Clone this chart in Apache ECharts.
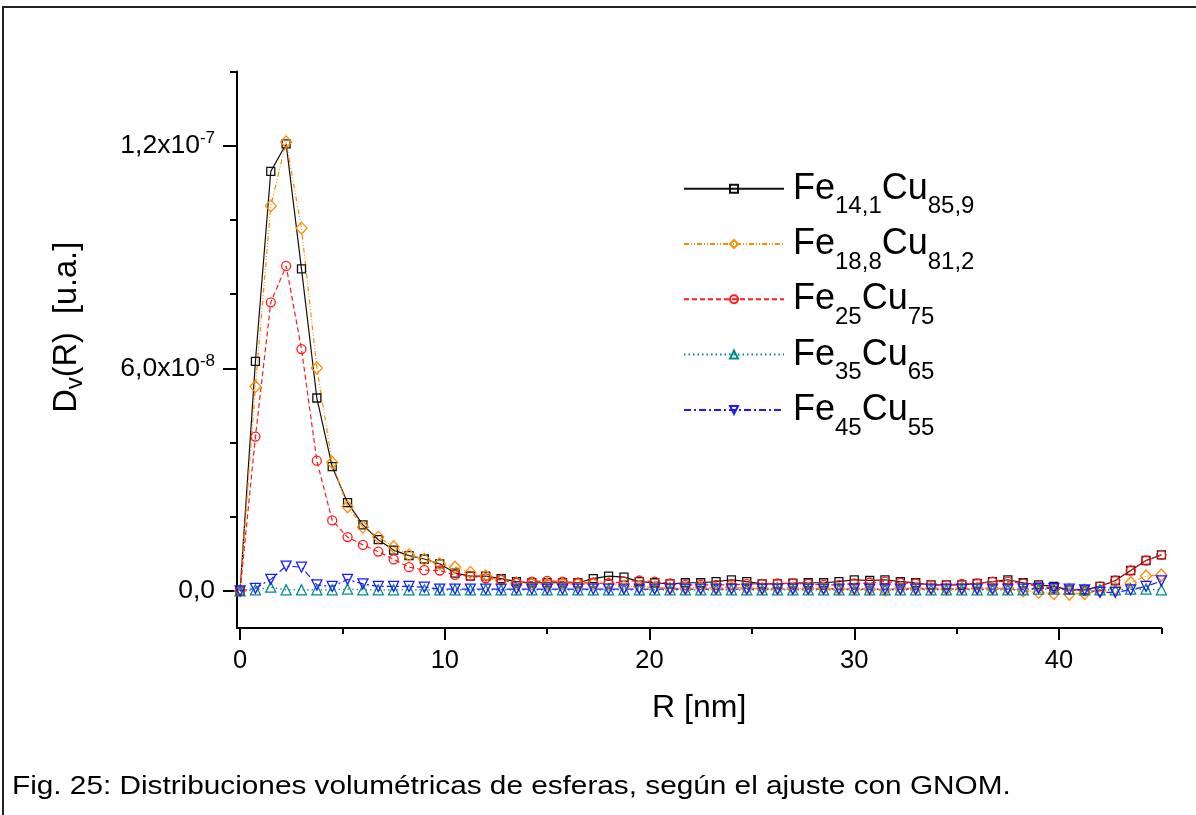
<!DOCTYPE html>
<html>
<head>
<meta charset="utf-8">
<title>Distribuciones volumétricas</title>
<script src="https://cdn.jsdelivr.net/npm/echarts@6/dist/echarts.min.js"></script>
<style>
    html, body { margin: 0; padding: 0; background: #fff; }
    #chart { position: absolute; left: 0; top: 0; width: 1196px; height: 815px; }
    #frame {
        position: absolute; left: 2px; top: 6px; width: 1194px; height: 809px;
        border-top: 2px solid #222; border-left: 2px solid #222;
        box-sizing: border-box; pointer-events: none;
    }
</style>
</head>
<body>
<div id="chart"></div>
<div id="frame"></div>
<script>
const FONT = '"Liberation Sans", Arial, sans-serif';
const CAPTION = 'Fig. 25: Distribuciones volumétricas de esferas, según el ajuste con GNOM.';

// R [nm]
const rValues = [0, 0.75, 1.5, 2.25, 3, 3.75, 4.5, 5.25, 6, 6.75, 7.5, 8.25, 9, 9.75, 10.5, 11.25,
    12, 12.75, 13.5, 14.25, 15, 15.75, 16.5, 17.25, 18, 18.75, 19.5, 20.25, 21, 21.75, 22.5, 23.25,
    24, 24.75, 25.5, 26.25, 27, 27.75, 28.5, 29.25, 30, 30.75, 31.5, 32.25, 33, 33.75, 34.5, 35.25,
    36, 36.75, 37.5, 38.25, 39, 39.75, 40.5, 41.25, 42, 42.75, 43.5, 44.25, 45];

// Dv(R) in units of 1e-8
const fe141 = [0, 6.19, 11.31, 12.05, 8.68, 5.20, 3.35, 2.38, 1.78, 1.38, 1.10, 0.95, 0.86,
    0.73, 0.48, 0.40, 0.40, 0.33, 0.25, 0.22, 0.22, 0.22, 0.22, 0.33, 0.40,
    0.37, 0.25, 0.22, 0.19, 0.22, 0.22, 0.25, 0.30, 0.25, 0.19, 0.19, 0.21,
    0.22, 0.22, 0.25, 0.30, 0.28, 0.30, 0.25, 0.22, 0.16, 0.16, 0.16, 0.20,
    0.25, 0.30, 0.22, 0.16, 0.12, 0.03, 0.03, 0.12, 0.28, 0.55, 0.82, 0.97];
const fe188 = [0, 5.51, 10.38, 12.10, 9.78, 6.01, 3.46, 2.27, 1.72, 1.45, 1.19, 0.97, 0.85,
    0.73, 0.64, 0.50, 0.40, 0.28, 0.22, 0.19, 0.19, 0.19, 0.19, 0.19, 0.20,
    0.12, 0.12, 0.10, 0.07, 0.07, 0.10, 0.07, 0.10, 0.07, 0.07, 0.07, 0.07,
    0.07, 0.07, 0.05, 0.05, 0.05, 0.03, 0.07, 0.07, 0.07, 0.05, 0.07, 0.07,
    0.07, 0.07, 0.00, -0.04, -0.07, -0.09, -0.07, 0.00, 0.07, 0.22, 0.40, 0.43];
const fe25 = [0, 4.16, 7.78, 8.76, 6.52, 3.51, 1.90, 1.45, 1.24, 1.06, 0.85, 0.64, 0.56,
    0.55, 0.43, 0.40, 0.34, 0.30, 0.22, 0.25, 0.27, 0.25, 0.22, 0.22, 0.20,
    0.25, 0.28, 0.25, 0.20, 0.16, 0.16, 0.16, 0.16, 0.19, 0.19, 0.20, 0.20,
    0.19, 0.16, 0.16, 0.20, 0.22, 0.25, 0.22, 0.20, 0.16, 0.16, 0.19, 0.20,
    0.25, 0.25, 0.20, 0.12, 0.07, 0.03, 0.00, 0.12, 0.28, 0.55, 0.82, 0.97];
const fe35 = [0, 0.03, 0.10, 0.03, 0.03, 0.03, 0.03, 0.05, 0.03, 0.03, 0.03, 0.03, 0.03,
    0.03, 0.03, 0.03, 0.03, 0.03, 0.03, 0.03, 0.03, 0.03, 0.03, 0.03, 0.03,
    0.03, 0.03, 0.03, 0.03, 0.03, 0.03, 0.03, 0.03, 0.03, 0.03, 0.03, 0.03,
    0.03, 0.03, 0.03, 0.03, 0.03, 0.03, 0.03, 0.03, 0.03, 0.03, 0.03, 0.03,
    0.03, 0.03, 0.03, 0.05, 0.05, 0.05, 0.03, 0.03, 0.03, 0.05, 0.05, 0.03];
const fe45 = [0, 0.07, 0.31, 0.67, 0.64, 0.16, 0.12, 0.31, 0.19, 0.12, 0.12, 0.12, 0.10,
    0.05, 0.05, 0.05, 0.05, 0.05, 0.05, 0.05, 0.05, 0.05, 0.05, 0.05, 0.05,
    0.05, 0.05, 0.05, 0.05, 0.05, 0.05, 0.05, 0.05, 0.05, 0.05, 0.05, 0.05,
    0.05, 0.05, 0.05, 0.05, 0.05, 0.05, 0.05, 0.05, 0.05, 0.05, 0.05, 0.05,
    0.05, 0.05, 0.05, 0.07, 0.07, 0.05, 0.03, -0.04, -0.04, 0.03, 0.12, 0.27];

const seriesNames = ['Fe14,1Cu85,9', 'Fe18,8Cu81,2', 'Fe25Cu75', 'Fe35Cu65', 'Fe45Cu55'];
const legendSubs = [['14,1', '85,9'], ['18,8', '81,2'], ['25', '75'], ['35', '65'], ['45', '55']];

const xMajorTicks = [0, 10, 20, 30, 40];
const xMinorTicks = [5, 15, 25, 35, 45];
const yMajorTicks = [0, 6, 12];
const yMinorTicks = [2, 4, 8, 10, 14];
const yTickMantissa = ['0,0', '6,0x10', '1,2x10'];
const yTickExponent = ['', '-8', '-7'];

const gridBox = { left: 237, top: 71.6, width: 924.4, height: 556.4 };

const makeSeries = (i, values, color, dash, symbol, size, rotate) => ({
    name: seriesNames[i],
    type: 'line',
    xAxisIndex: 0,
    yAxisIndex: 0,
    data: rValues.map((r, k) => [r, values[k]]),
    symbol: symbol,
    symbolSize: size,
    symbolRotate: rotate || 0,
    showSymbol: true,
    clip: false,
    lineStyle: { color: color, width: 1.2, type: dash },
    itemStyle: { color: 'rgba(255,255,255,0)', borderColor: color, borderWidth: 1.3 },
    emphasis: { disabled: true }
});

const chart = echarts.init(document.getElementById('chart'));

chart.setOption({
    animation: false,
    backgroundColor: '#fff',
    graphic: [{
        type: 'text',
        x: 12,
        y: 787,
        scaleX: 1.19,
        style: {
            text: CAPTION,
            fontSize: 25,
            fontFamily: FONT,
            fill: '#000',
            textVerticalAlign: 'middle'
        }
    }],
    grid: [Object.assign({}, gridBox), Object.assign({}, gridBox)],
    legend: {
        orient: 'vertical',
        left: 683,
        top: 158.7,
        padding: 0,
        itemGap: -4.7,
        itemWidth: 100,
        itemHeight: 10,
        selectedMode: false,
        data: seriesNames,
        formatter: name => {
            const p = legendSubs[seriesNames.indexOf(name)];
            return '{f|Fe}{s|' + p[0] + '}{m|Cu}{s|' + p[1] + '}';
        },
        textStyle: {
            color: '#000',
            fontFamily: FONT,
            rich: {
                f: { fontSize: 36, lineHeight: 36, fontFamily: FONT, color: '#000', padding: [0, 0, 0, 4] },
                m: { fontSize: 36, lineHeight: 36, fontFamily: FONT, color: '#000' },
                s: { fontSize: 24, lineHeight: 22, fontFamily: FONT, color: '#000', padding: [36, 0, 0, 0] }
            }
        }
    },
    xAxis: [{
        type: 'value',
        gridIndex: 0,
        min: -0.15,
        max: 45,
        axisLine: { show: true, onZero: false, lineStyle: { color: '#000', width: 2 } },
        axisTick: { show: true, customValues: xMajorTicks, length: 12, lineStyle: { color: '#000', width: 2 } },
        axisLabel: { customValues: xMajorTicks, margin: 20, fontSize: 25.5, lineHeight: 25, color: '#000', fontFamily: FONT },
        splitLine: { show: false },
        name: 'R [nm]',
        nameLocation: 'middle',
        nameGap: 64,
        nameTextStyle: { fontSize: 32, lineHeight: 32, color: '#000', fontFamily: FONT }
    }, {
        type: 'value',
        gridIndex: 1,
        min: -0.15,
        max: 45,
        axisLine: { show: false, onZero: false },
        axisTick: { show: true, customValues: xMinorTicks, length: 6, lineStyle: { color: '#000', width: 2 } },
        axisLabel: { show: false },
        splitLine: { show: false }
    }],
    yAxis: [{
        type: 'value',
        gridIndex: 0,
        min: -1,
        max: 14,
        axisLine: { show: true, onZero: false, lineStyle: { color: '#000', width: 2 } },
        axisTick: { show: true, customValues: yMajorTicks, length: 14, lineStyle: { color: '#000', width: 2 } },
        axisLabel: {
            customValues: yMajorTicks,
            margin: 22,
            color: '#000',
            fontFamily: FONT,
            formatter: v => {
                const i = yMajorTicks.indexOf(v);
                if (i < 0) return '';
                return yTickExponent[i]
                    ? '{m|' + yTickMantissa[i] + '}{e|' + yTickExponent[i] + '}'
                    : '{m|' + yTickMantissa[i] + '}';
            },
            rich: {
                m: { fontSize: 26.5, lineHeight: 26, fontFamily: FONT, color: '#000' },
                e: { fontSize: 17, lineHeight: 17, fontFamily: FONT, color: '#000', padding: [0, 0, 15, 0] }
            }
        },
        splitLine: { show: false },
        name: '{m|D}{s|v}{m|(R)  [u.a.]}',
        nameLocation: 'middle',
        nameRotate: 90,
        nameGap: 154,
        nameTextStyle: {
            color: '#000',
            fontFamily: FONT,
            padding: [0, 0, 0, 45],
            rich: {
                m: { fontSize: 32.5, lineHeight: 32, fontFamily: FONT, color: '#000' },
                s: { fontSize: 24, lineHeight: 24, fontFamily: FONT, color: '#000', padding: [16, 0, 0, 0] }
            }
        }
    }, {
        type: 'value',
        gridIndex: 1,
        min: -1,
        max: 14,
        axisLine: { show: false, onZero: false },
        axisTick: { show: true, customValues: yMinorTicks, length: 7, lineStyle: { color: '#000', width: 2 } },
        axisLabel: { show: false },
        splitLine: { show: false }
    }],
    series: [
        makeSeries(0, fe141, '#111111', 'solid', 'rect', 8),
        makeSeries(1, fe188, '#ff8c00', [5, 2, 1, 2, 1, 2], 'diamond', [11, 12]),
        makeSeries(2, fe25, '#ff1a1a', [5, 3], 'circle', 9),
        makeSeries(3, fe35, '#008b8b', [1.5, 3], 'triangle', 10),
        makeSeries(4, fe45, '#1a1aff', [7, 3, 2, 3], 'triangle', 10, 180)
    ]
});
</script>
</body>
</html>
